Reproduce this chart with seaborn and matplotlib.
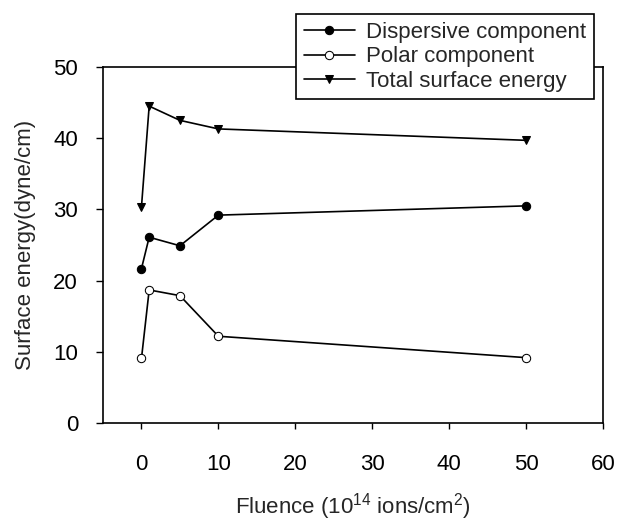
import pandas as pd
import matplotlib
matplotlib.use("Agg")
import matplotlib.pyplot as plt
import seaborn as sns

fluence = [0, 1, 5, 10, 50]
dispersive = [21.7, 26.1, 24.9, 29.2, 30.5]
polar = [9.1, 18.7, 17.9, 12.2, 9.2]
total = [30.4, 44.5, 42.5, 41.3, 39.7]

sns.set_style("ticks")
plt.rcParams['font.family'] = ['Liberation Sans', 'DejaVu Sans']
plt.rcParams['mathtext.fontset'] = 'custom'
plt.rcParams['mathtext.rm'] = 'Liberation Sans'

fig = plt.figure(figsize=(6.36, 5.27), dpi=100)
ax = fig.add_axes([0.162, 0.197, 0.786, 0.676])

df = pd.DataFrame({"Fluence": fluence, "Dispersive": dispersive,
                   "Polar": polar, "Total": total})

sns.lineplot(data=df, x="Fluence", y="Dispersive", ax=ax, color="black", lw=1.2,
             marker="o", markersize=6, markerfacecolor="black", markeredgecolor="black",
             label="Dispersive component")
sns.lineplot(data=df, x="Fluence", y="Polar", ax=ax, color="black", lw=1.2,
             marker="o", markersize=6, markerfacecolor="white", markeredgecolor="black",
             label="Polar component")
sns.lineplot(data=df, x="Fluence", y="Total", ax=ax, color="black", lw=1.2,
             marker="v", markersize=6, markerfacecolor="black", markeredgecolor="black",
             label="Total surface energy")

ax.set_xlim(-5, 60)
ax.set_ylim(0, 50)
ax.set_xticks([0, 10, 20, 30, 40, 50, 60])
ax.set_yticks([0, 10, 20, 30, 40, 50])
ax.tick_params(axis="both", labelsize=16, direction="out", width=1, colors="black")
ax.tick_params(axis="x", length=4, pad=18)
ax.tick_params(axis="y", length=5, pad=13)
for s in ax.spines.values():
    s.set_color("black")
    s.set_linewidth(1.2)

ax.set_xlabel("Fluence (10$^{14}$ ions/cm$^{2}$)", fontsize=16, labelpad=12)
ax.set_ylabel("Surface energy(dyne/cm)", fontsize=16, labelpad=12)

leg = ax.legend(loc="upper left", bbox_to_anchor=(0.465, 0.973),
                bbox_transform=fig.transFigure, fontsize=16, frameon=True,
                fancybox=False, edgecolor="black", framealpha=1,
                handlelength=2.3, handletextpad=0.5, borderpad=0.35,
                labelspacing=0.15, borderaxespad=0)
leg.get_frame().set_linewidth(1.2)

fig.savefig("out.png", dpi=100)
